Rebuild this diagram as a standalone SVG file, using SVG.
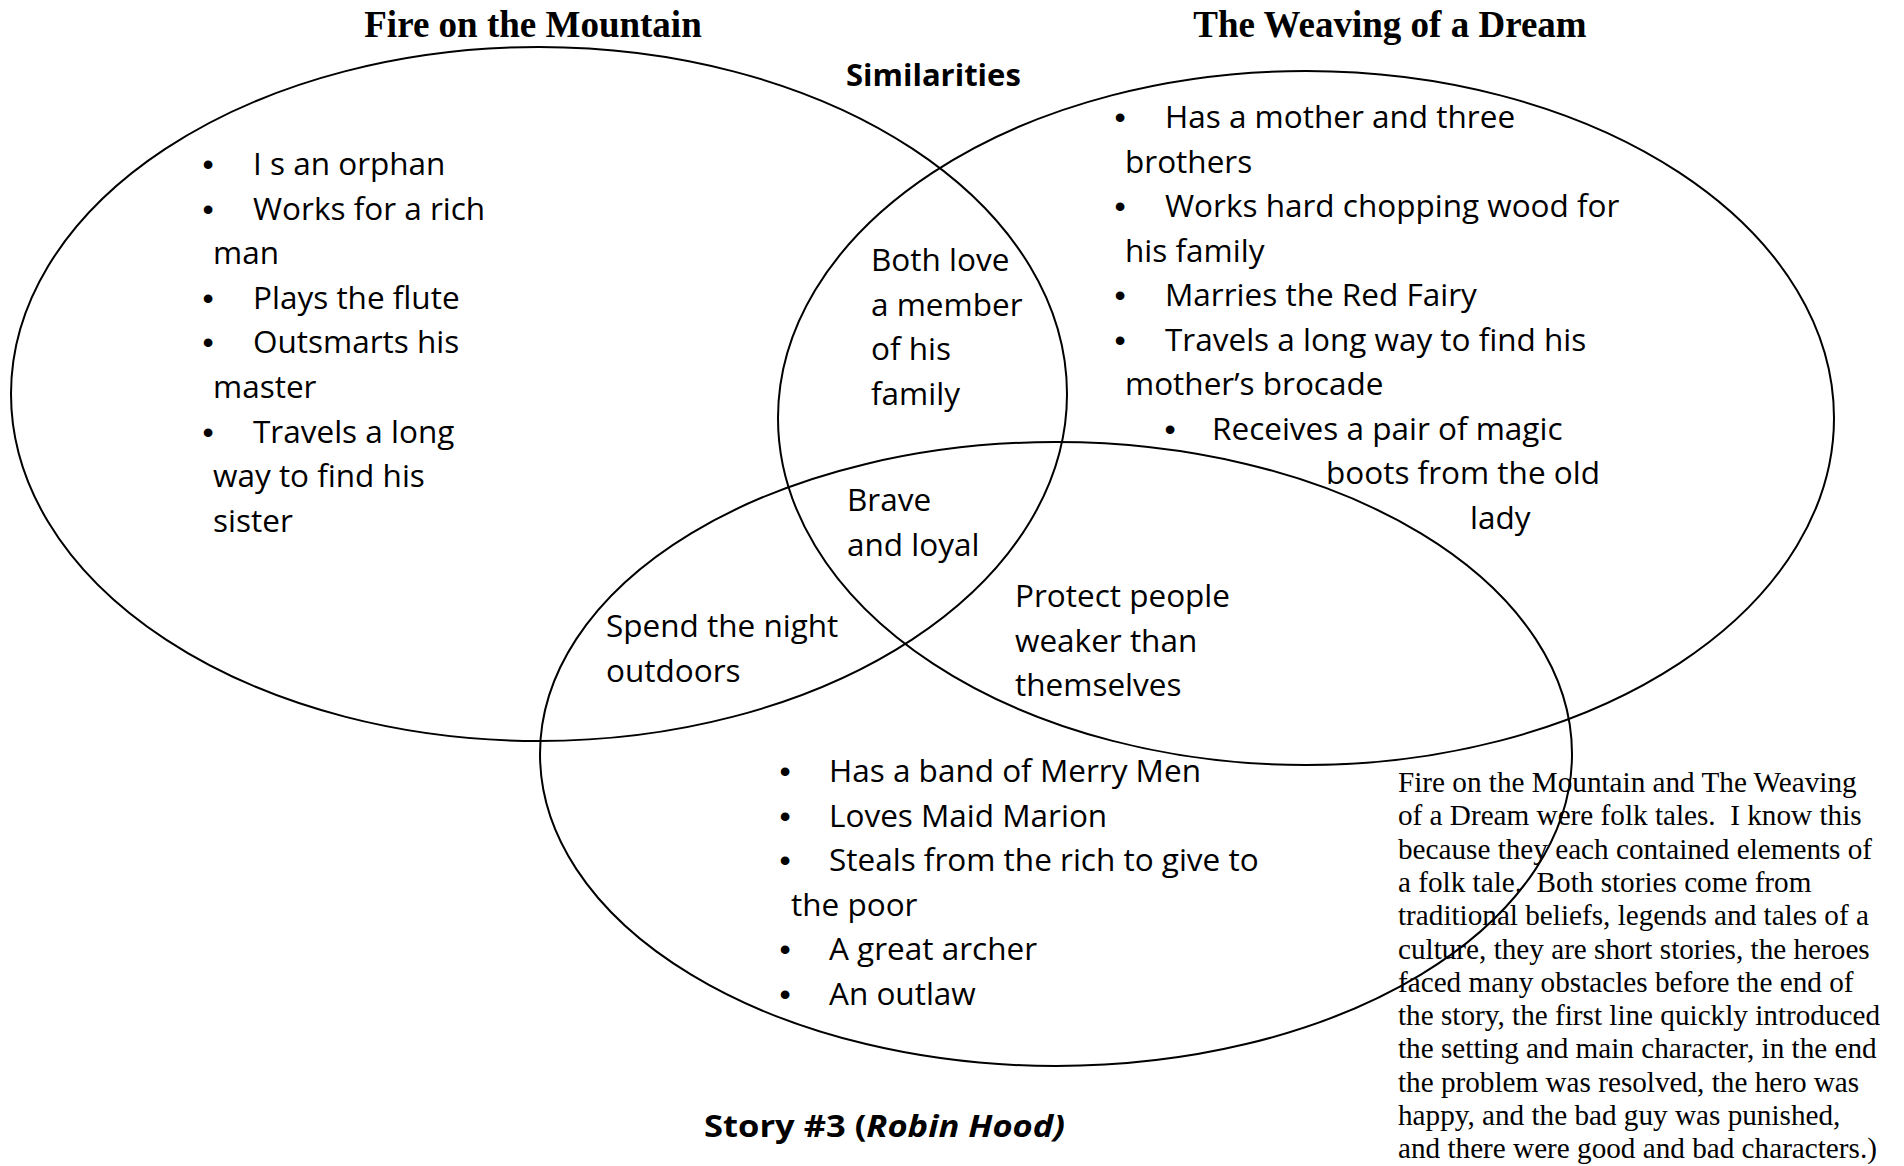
<svg xmlns="http://www.w3.org/2000/svg" width="1904" height="1166" viewBox="0 0 1904 1166">
<style>
  .ring { fill: none; stroke: #000; stroke-width: 2; }
  .title { font-family: "Liberation Serif", "Times New Roman", serif; font-weight: bold; font-size: 37px; fill: #000; }
  .item { font-family: "Open Sans", "DejaVu Sans", sans-serif; font-size: 31.5px; fill: #000; }
  .bul { font-family: "Liberation Sans", Arial, sans-serif; font-size: 32px; fill: #000; text-anchor: middle; }
  .label { font-family: "Open Sans", "DejaVu Sans", sans-serif; font-weight: bold; font-size: 31px; fill: #000; }
  .para { font-family: "Liberation Serif", "Times New Roman", serif; font-size: 29.2px; fill: #000; }
</style>
<rect x="0" y="0" width="1904" height="1166" fill="#fff"/>

<g id="sets">
  <ellipse id="set-fire" class="ring" cx="539" cy="394" rx="528" ry="347"/>
  <ellipse id="set-weaving" class="ring" cx="1306" cy="418" rx="528" ry="347"/>
  <ellipse id="set-robin" class="ring" cx="1056" cy="754" rx="516" ry="312"/>
</g>

<g id="title-fire">
  <text class="title" x="533" y="37" text-anchor="middle">Fire on the Mountain</text>
</g>
<g id="title-weaving">
  <text class="title" x="1390" y="37" text-anchor="middle">The Weaving of a Dream</text>
</g>
<g id="title-similarities">
  <text class="label" x="846" y="86">Similarities</text>
</g>
<g id="title-story3">
  <text class="label" x="704" y="1137" font-size="33" textLength="361" lengthAdjust="spacingAndGlyphs">Story #3 (<tspan font-style="italic">Robin Hood)</tspan></text>
</g>

<g id="fire-only">
  <text class="bul" x="208" y="175">•</text><text class="item" x="253" y="175">I s an orphan</text>
  <text class="bul" x="208" y="219.6">•</text><text class="item" x="253" y="219.6">Works for a rich</text>
  <text class="item" x="213" y="264.2">man</text>
  <text class="bul" x="208" y="308.8">•</text><text class="item" x="253" y="308.8">Plays the flute</text>
  <text class="bul" x="208" y="353.4">•</text><text class="item" x="253" y="353.4">Outsmarts his</text>
  <text class="item" x="213" y="398">master</text>
  <text class="bul" x="208" y="442.6">•</text><text class="item" x="253" y="442.6">Travels a long</text>
  <text class="item" x="213" y="487.2">way to find his</text>
  <text class="item" x="213" y="531.8">sister</text>
</g>

<g id="weaving-only">
  <text class="bul" x="1120" y="128">•</text><text class="item" x="1165" y="128">Has a mother and three</text>
  <text class="item" x="1125" y="172.5">brothers</text>
  <text class="bul" x="1120" y="217">•</text><text class="item" x="1165" y="217">Works hard chopping wood for</text>
  <text class="item" x="1125" y="261.5">his family</text>
  <text class="bul" x="1120" y="306">•</text><text class="item" x="1165" y="306">Marries the Red Fairy</text>
  <text class="bul" x="1120" y="350.5">•</text><text class="item" x="1165" y="350.5">Travels a long way to find his</text>
  <text class="item" x="1125" y="395">mother’s brocade</text>
  <text class="bul" x="1170" y="439.5">•</text><text class="item" x="1212" y="439.5">Receives a pair of magic</text>
  <text class="item" x="1326" y="484">boots from the old</text>
  <text class="item" x="1470" y="528.5">lady</text>
</g>

<g id="fire-weaving">
  <text class="item" x="871" y="271">Both love</text>
  <text class="item" x="871" y="316">a member</text>
  <text class="item" x="871" y="360">of his</text>
  <text class="item" x="871" y="405">family</text>
</g>

<g id="all-three">
  <text class="item" x="847" y="511">Brave</text>
  <text class="item" x="847" y="556">and loyal</text>
</g>

<g id="fire-robin">
  <text class="item" x="606" y="637">Spend the night</text>
  <text class="item" x="606" y="682">outdoors</text>
</g>

<g id="weaving-robin">
  <text class="item" x="1015" y="607">Protect people</text>
  <text class="item" x="1015" y="652">weaker than</text>
  <text class="item" x="1015" y="696">themselves</text>
</g>

<g id="robin-only">
  <text class="bul" x="785" y="782">•</text><text class="item" x="829" y="782">Has a band of Merry Men</text>
  <text class="bul" x="785" y="826.5">•</text><text class="item" x="829" y="826.5">Loves Maid Marion</text>
  <text class="bul" x="785" y="871">•</text><text class="item" x="829" y="871">Steals from the rich to give to</text>
  <text class="item" x="791" y="915.5">the poor</text>
  <text class="bul" x="785" y="960">•</text><text class="item" x="829" y="960">A great archer</text>
  <text class="bul" x="785" y="1004.5">•</text><text class="item" x="829" y="1004.5">An outlaw</text>
</g>

<g id="conclusion">
  <text class="para" x="1398" y="792" xml:space="preserve">Fire on the Mountain and The Weaving</text>
  <text class="para" x="1398" y="825.3" xml:space="preserve">of a Dream were folk tales.  I know this</text>
  <text class="para" x="1398" y="858.6" xml:space="preserve">because they each contained elements of</text>
  <text class="para" x="1398" y="891.9" xml:space="preserve">a folk tale.  Both stories come from</text>
  <text class="para" x="1398" y="925.2" xml:space="preserve">traditional beliefs, legends and tales of a</text>
  <text class="para" x="1398" y="958.5" xml:space="preserve">culture, they are short stories, the heroes</text>
  <text class="para" x="1398" y="991.8" xml:space="preserve">faced many obstacles before the end of</text>
  <text class="para" x="1398" y="1025.1" xml:space="preserve">the story, the first line quickly introduced</text>
  <text class="para" x="1398" y="1058.4" xml:space="preserve">the setting and main character, in the end</text>
  <text class="para" x="1398" y="1091.7" xml:space="preserve">the problem was resolved, the hero was</text>
  <text class="para" x="1398" y="1125" xml:space="preserve">happy, and the bad guy was punished,</text>
  <text class="para" x="1398" y="1158.3" xml:space="preserve">and there were good and bad characters.)</text>
</g>
</svg>
